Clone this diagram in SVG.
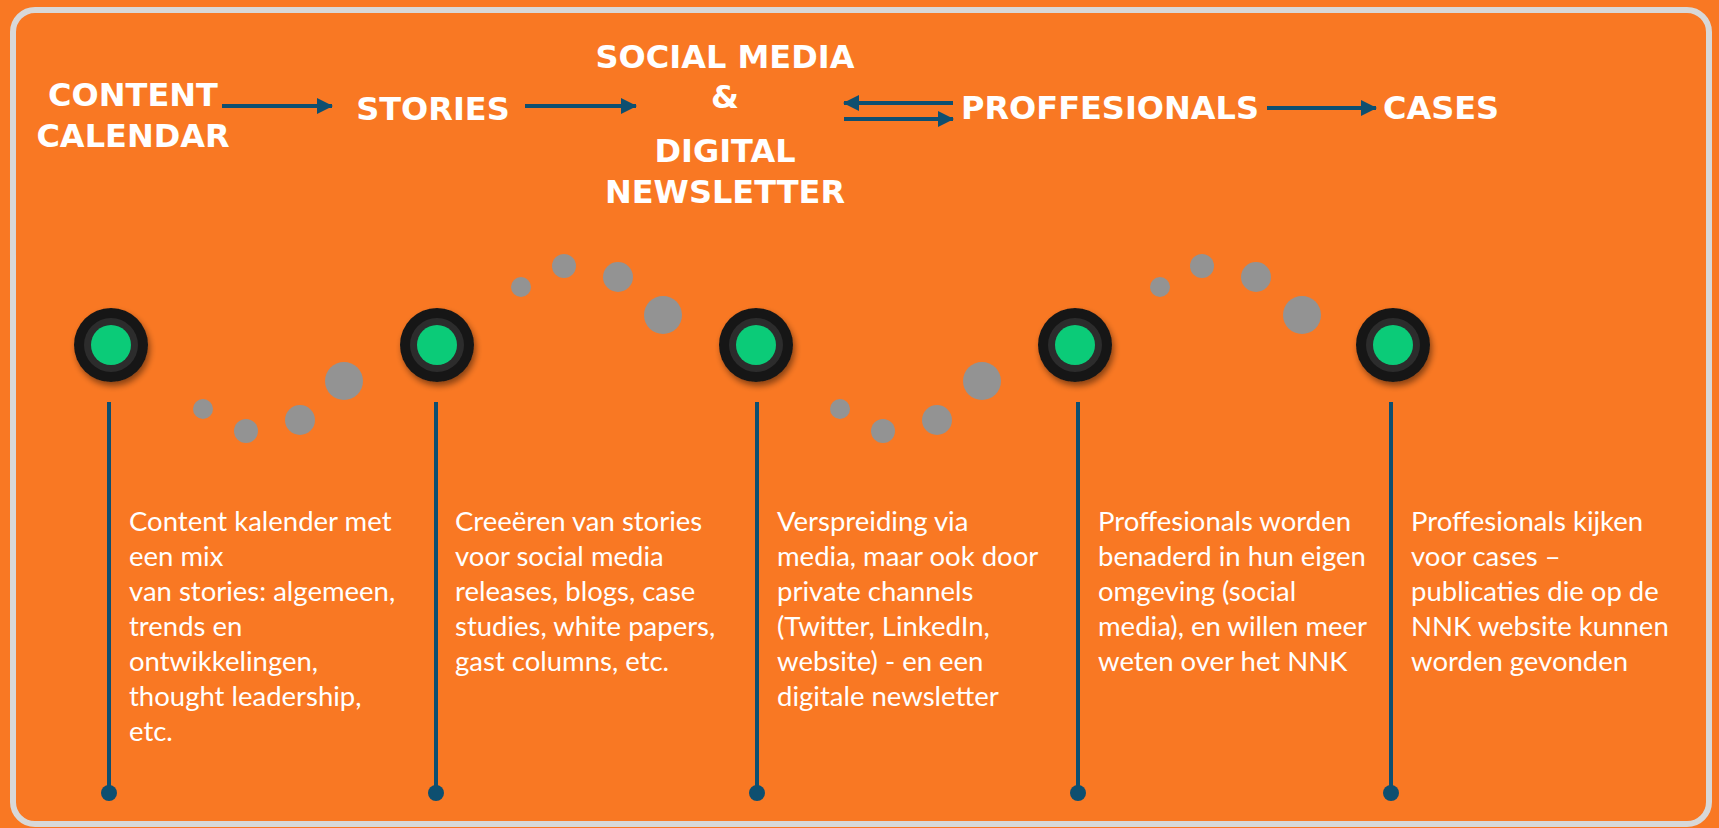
<svg xmlns="http://www.w3.org/2000/svg" width="1719" height="828" viewBox="0 0 1719 828">
<defs>
<style>
.h{font-family:"DejaVu Sans","Liberation Sans",sans-serif;font-weight:bold;font-size:32px;fill:#fff;text-anchor:middle}
.d{font-family:Lato,"Open Sans",sans-serif;font-size:27.5px;fill:#fff}
.ln{stroke:#0E4F70;stroke-width:4;fill:none}
.stem{stroke:#0E4F70;stroke-width:4}
.end{fill:#0E4F70}
.dot{fill:#939393}
.o{fill:#181818}
.r{fill:#2C2C2C}
.g{fill:#0BCB78}
</style>
<marker id="ah" viewBox="0 0 16 16" refX="15" refY="8" markerWidth="16" markerHeight="16" markerUnits="userSpaceOnUse" orient="auto">
<path d="M0,0 L16,8 L0,16 Z" fill="#0E4F70"/>
</marker>
<filter id="sh" x="-30%" y="-30%" width="160%" height="170%">
<feDropShadow dx="2" dy="4" stdDeviation="3" flood-color="#000" flood-opacity="0.45"/>
</filter>
</defs>
<rect x="0" y="0" width="1719" height="828" fill="#F97823"/>
<rect x="13" y="10" width="1696" height="814" rx="22" ry="22" fill="#F97823" stroke="#D8D8D8" stroke-width="6"/>

<g id="h-content"><text class="h" x="133" y="106">CONTENT</text><text class="h" x="133" y="147">CALENDAR</text></g>
<g id="h-stories"><text class="h" x="433" y="120">STORIES</text></g>
<g id="h-social"><text class="h" x="725" y="68">SOCIAL MEDIA</text><text class="h" x="725" y="108">&amp;</text><text class="h" x="725" y="162">DIGITAL</text><text class="h" x="725" y="203">NEWSLETTER</text></g>
<g id="h-prof"><text class="h" x="1110" y="119">PROFFESIONALS</text></g>
<g id="h-cases"><text class="h" x="1441" y="119">CASES</text></g>

<g id="connectors">
<line class="ln" x1="222" y1="106" x2="332" y2="106" marker-end="url(#ah)"/>
<line class="ln" x1="525" y1="106" x2="636" y2="106" marker-end="url(#ah)"/>
<line class="ln" x1="953" y1="103" x2="844" y2="103" marker-end="url(#ah)"/>
<line class="ln" x1="844" y1="119" x2="953" y2="119" marker-end="url(#ah)"/>
<line class="ln" x1="1267" y1="108" x2="1376" y2="108" marker-end="url(#ah)"/>
</g>

<g id="dots">
<circle class="dot" cx="203" cy="409" r="10"/>
<circle class="dot" cx="246" cy="431" r="12"/>
<circle class="dot" cx="300" cy="420" r="15"/>
<circle class="dot" cx="344" cy="381" r="19"/>
<circle class="dot" cx="521" cy="287" r="10"/>
<circle class="dot" cx="564" cy="266" r="12"/>
<circle class="dot" cx="618" cy="277" r="15"/>
<circle class="dot" cx="663" cy="315" r="19"/>
<circle class="dot" cx="840" cy="409" r="10"/>
<circle class="dot" cx="883" cy="431" r="12"/>
<circle class="dot" cx="937" cy="420" r="15"/>
<circle class="dot" cx="982" cy="381" r="19"/>
<circle class="dot" cx="1160" cy="287" r="10"/>
<circle class="dot" cx="1202" cy="266" r="12"/>
<circle class="dot" cx="1256" cy="277" r="15"/>
<circle class="dot" cx="1302" cy="315" r="19"/>
</g>

<g id="node1">
<line class="stem" x1="109" y1="402" x2="109" y2="793"/><circle class="end" cx="109" cy="793" r="8"/>
<g filter="url(#sh)"><circle class="o" cx="111" cy="345" r="37"/></g><circle class="r" cx="111" cy="345" r="27"/><circle class="g" cx="111" cy="345" r="20"/>
<text class="d" x="129" y="531"><tspan x="129">Content kalender met</tspan><tspan x="129" dy="35">een mix</tspan><tspan x="129" dy="35">van stories: algemeen,</tspan><tspan x="129" dy="35">trends en</tspan><tspan x="129" dy="35">ontwikkelingen,</tspan><tspan x="129" dy="35">thought leadership,</tspan><tspan x="129" dy="35">etc.</tspan></text>
</g>
<g id="node2">
<line class="stem" x1="436" y1="402" x2="436" y2="793"/><circle class="end" cx="436" cy="793" r="8"/>
<g filter="url(#sh)"><circle class="o" cx="437" cy="345" r="37"/></g><circle class="r" cx="437" cy="345" r="27"/><circle class="g" cx="437" cy="345" r="20"/>
<text class="d" x="455" y="531"><tspan x="455">Creeëren van stories</tspan><tspan x="455" dy="35">voor social media</tspan><tspan x="455" dy="35">releases, blogs, case</tspan><tspan x="455" dy="35">studies, white papers,</tspan><tspan x="455" dy="35">gast columns, etc.</tspan></text>
</g>
<g id="node3">
<line class="stem" x1="757" y1="402" x2="757" y2="793"/><circle class="end" cx="757" cy="793" r="8"/>
<g filter="url(#sh)"><circle class="o" cx="756" cy="345" r="37"/></g><circle class="r" cx="756" cy="345" r="27"/><circle class="g" cx="756" cy="345" r="20"/>
<text class="d" x="777" y="531"><tspan x="777">Verspreiding via</tspan><tspan x="777" dy="35">media, maar ook door</tspan><tspan x="777" dy="35">private channels</tspan><tspan x="777" dy="35">(Twitter, LinkedIn,</tspan><tspan x="777" dy="35">website) - en een</tspan><tspan x="777" dy="35">digitale newsletter</tspan></text>
</g>
<g id="node4">
<line class="stem" x1="1078" y1="402" x2="1078" y2="793"/><circle class="end" cx="1078" cy="793" r="8"/>
<g filter="url(#sh)"><circle class="o" cx="1075" cy="345" r="37"/></g><circle class="r" cx="1075" cy="345" r="27"/><circle class="g" cx="1075" cy="345" r="20"/>
<text class="d" x="1098" y="531"><tspan x="1098">Proffesionals worden</tspan><tspan x="1098" dy="35">benaderd in hun eigen</tspan><tspan x="1098" dy="35">omgeving (social</tspan><tspan x="1098" dy="35">media), en willen meer</tspan><tspan x="1098" dy="35">weten over het NNK</tspan></text>
</g>
<g id="node5">
<line class="stem" x1="1391" y1="402" x2="1391" y2="793"/><circle class="end" cx="1391" cy="793" r="8"/>
<g filter="url(#sh)"><circle class="o" cx="1393" cy="345" r="37"/></g><circle class="r" cx="1393" cy="345" r="27"/><circle class="g" cx="1393" cy="345" r="20"/>
<text class="d" x="1411" y="531"><tspan x="1411">Proffesionals kijken</tspan><tspan x="1411" dy="35">voor cases –</tspan><tspan x="1411" dy="35">publicaties die op de</tspan><tspan x="1411" dy="35">NNK website kunnen</tspan><tspan x="1411" dy="35">worden gevonden</tspan></text>
</g>
</svg>
